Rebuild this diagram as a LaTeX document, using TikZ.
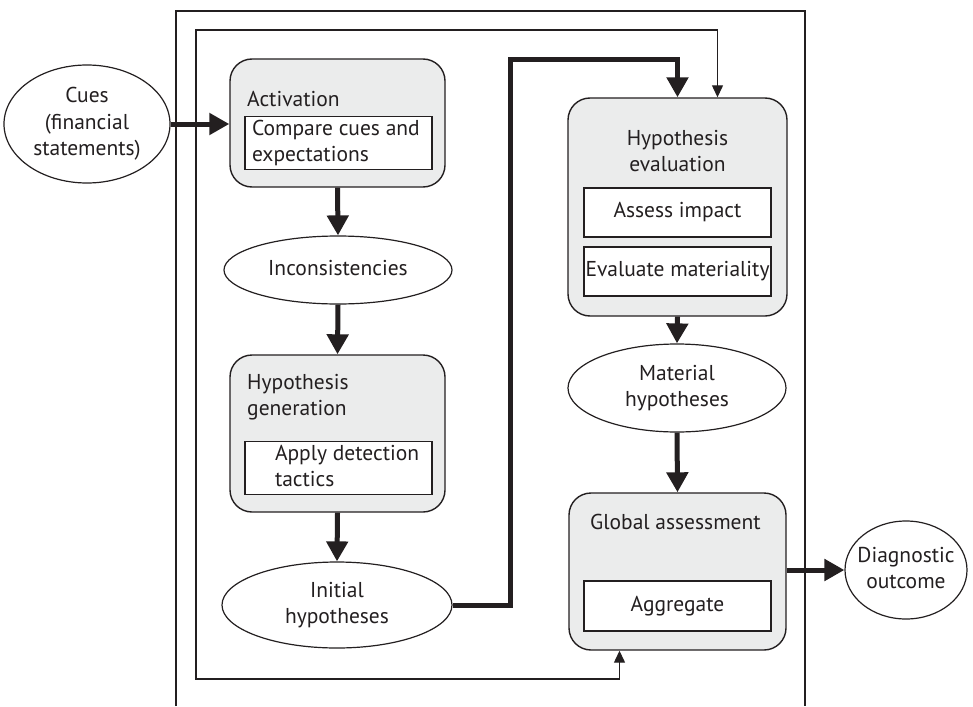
\documentclass[tikz,border=0pt]{standalone}
\usepackage{fontspec}
\setmainfont{PT Sans}
\usetikzlibrary{arrows.meta,shapes.geometric,calc}

\definecolor{ink}{HTML}{231F20}
\definecolor{panel}{HTML}{EBECEC}

% text block of zero width, so an ellipse keeps the size it is given
\newcommand{\flatblock}[1]{\makebox[0pt]{\begin{tabular}{@{}c@{}}#1\end{tabular}}}
% left-set two-line text in a task box of fixed width, with a given indent
\newcommand{\leftblock}[2]{\makebox[187pt][l]{\hspace{#1}\begin{tabular}{@{}l@{}}#2\end{tabular}}}

\begin{document}
\begin{tikzpicture}[
  x=1pt, y=-1pt,
  every node/.style={text=ink, font=\fontsize{21.5}{26.5}\selectfont},
  stage/.style={draw=ink, fill=panel, rounded corners=22pt, line width=1.4pt,
                rectangle, inner sep=0pt},
  task/.style={draw=ink, fill=white, line width=1.2pt, rectangle, inner sep=0pt,
               minimum width=187pt},
  state/.style={ellipse, draw=ink, fill=white, line width=1.2pt, inner sep=0pt},
  title/.style={inner sep=0pt, align=left},
  flow/.style={draw=ink, line width=5pt, -{Triangle[width=21pt,length=20pt]}},
  loop/.style={draw=ink, line width=1.3pt,
               {Triangle[width=11pt,length=12pt]}-{Triangle[width=11pt,length=12pt]}},
]
\useasboundingbox (0,0) rectangle (973,706);

% outer frame, open at the bottom
\coordinate (frameBL) at (176,706);
\coordinate (frameTL) at (176,11);
\coordinate (frameTR) at (805,11);
\coordinate (frameBR) at (805,706);
\draw[ink, line width=2.6pt] (frameBL) -- (frameTL) -- (frameTR) -- (frameBR);

% stages
\node[stage, minimum width=215pt, minimum height=128pt] (act)  at (337.5,123) {};
\node[stage, minimum width=215pt, minimum height=157pt] (gen)  at (337.5,433.5) {};
\node[stage, minimum width=219pt, minimum height=218pt] (eval) at (677.5,207) {};
\node[stage, minimum width=217pt, minimum height=157pt] (glob) at (677.5,571.5) {};

% stage titles
\node[title, anchor=west] (actT)  at (247,99)  {Activation};
\node[title, anchor=west] (genT)  at (247,397) {Hypothesis\\generation};
\node[title, anchor=center, align=center] (evalT) at (677.5,151) {Hypothesis\\evaluation};
\node[title, anchor=west] (globT) at (590,522) {Global assessment};

% tasks inside the stages
\node[task, minimum height=50pt] (cmp) at (338.5,143)
  {\leftblock{7pt}{Compare cues and\\expectations}};
\node[task, minimum height=49pt] (app) at (338.5,468)
  {\leftblock{30pt}{Apply detection\\tactics}};
\node[task, minimum height=49pt] (imp) at (677.5,212.5) {Assess impact};
\node[task, minimum height=49pt] (mat) at (677.5,271.5) {Evaluate materiality};
\node[task, minimum height=50pt] (agg) at (677.5,606)   {Aggregate};

% states
\node[state, minimum width=166pt, minimum height=118pt] (cues) at (87,124)
  {\flatblock{Cues\\(financial\\statements)}};
\node[state, minimum width=228pt, minimum height=68pt] (inc) at (338,270)
  {\flatblock{Inconsistencies}};
\node[state, minimum width=230pt, minimum height=86pt] (init) at (337,605)
  {\flatblock{Initial\\hypotheses}};
\node[state, minimum width=218pt, minimum height=88pt] (matH) at (677,388)
  {\flatblock{Material\\hypotheses}};
\node[state, minimum width=122pt, minimum height=98pt] (diag) at (906,570)
  {\flatblock{Diagnostic\\outcome}};

% main flow
\draw[flow] (cues.east) -- (cues.east -| act.west);
\draw[flow] (act.south) -- (inc.north);
\draw[flow] (inc.south) -- (gen.north);
\draw[flow] (gen.south) -- (init.north);
\coordinate (bendR) at (510,60);
\draw[flow] (init.east) -| (bendR) -| (eval.north);
\draw[flow] (eval.south) -- (matH.north);
\draw[flow] (matH.south) -- (glob.north);
\draw[flow] (diag.west -| glob.east) -- (diag.west);

% feedback loop round the inner frame
\coordinate (loopTL) at (196,30);
\coordinate (loopBL) at (196,679);
\draw[loop] ([xshift=40pt]eval.north) |- (loopTL) -- (loopBL) -| ([xshift=-58pt]glob.south);
\end{tikzpicture}
\end{document}
